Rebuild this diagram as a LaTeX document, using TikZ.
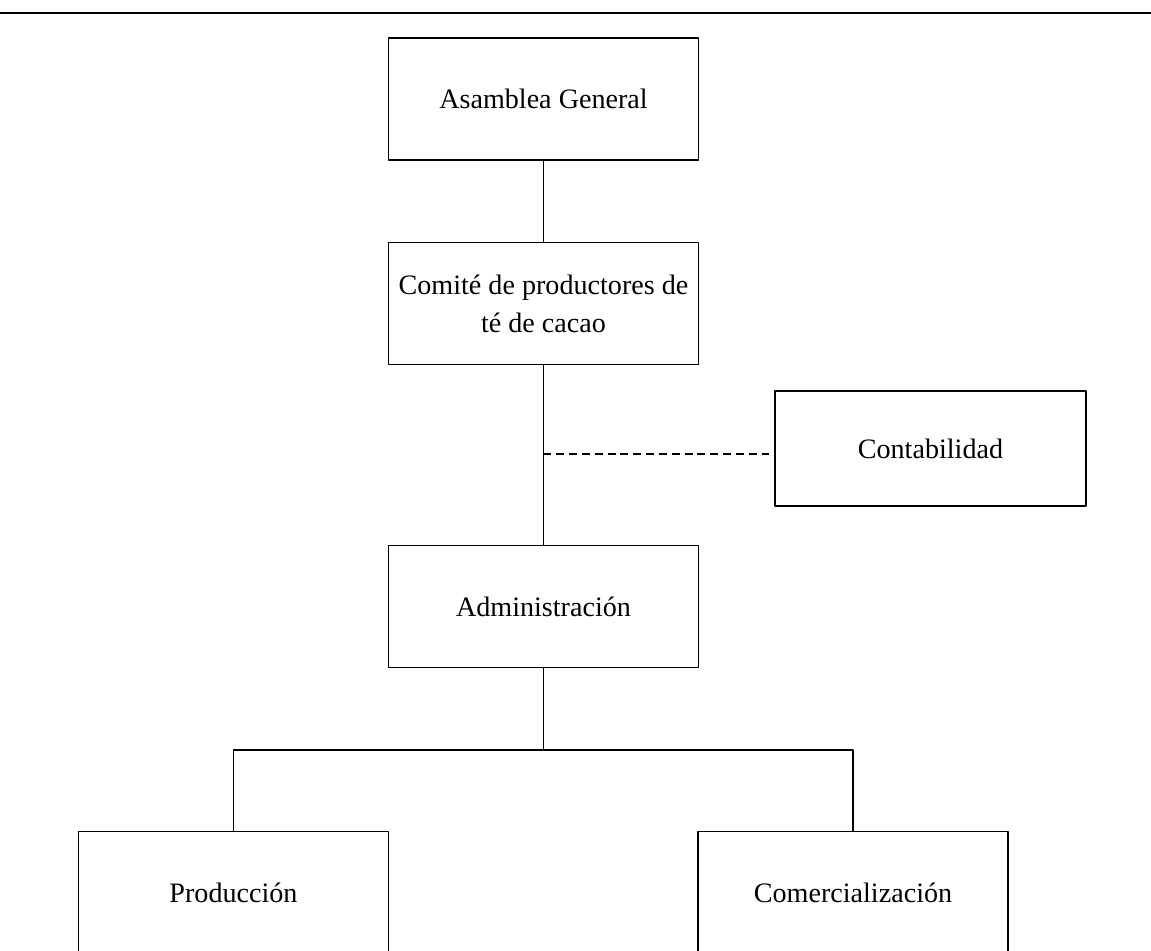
\documentclass[tikz,border=0pt]{standalone}
\usepackage{fontspec}
\setmainfont{Liberation Serif}
\usepackage{tikz}
\usetikzlibrary{positioning}

\begin{document}
\begin{tikzpicture}[join=round,
    unidad/.style={draw,line width=0.8pt,minimum width=6.2cm,minimum height=2.44cm,inner sep=0pt,align=center,font=\fontsize{16}{21.5}\selectfont},
    enlace/.style={line width=0.6pt}] % Organigrama
   \useasboundingbox (0,0) rectangle (23.02,19.02);
   \coordinate (ri) at (0,18.76);
   \coordinate (rd) at (23.02,18.76);
   \draw[line width=1.2pt] (ri) -- (rd);
       \node[unidad] (asamblea) at (10.87,17.04) {Asamblea General};
       \node[unidad] (comite) at (10.87,12.95) {Comité de productores de\\té de cacao};
       \node[unidad,minimum width=6.22cm,minimum height=2.3cm] (contab) at (18.61,10.05) {Contabilidad};
       \node[unidad] (admin) at (10.87,6.89) {Administración};
       \node[unidad,anchor=north] (prod) at (4.67,2.4) {Producción};
       \node[unidad,anchor=north] (comer) at (17.06,2.4) {Comercialización};
        \coordinate (cruce) at (10.87,9.94);
        \coordinate (barra) at (10.87,4.02);
       \draw[enlace] (asamblea) -- (comite);
       \draw[enlace] (comite) -- (admin);
       \draw[enlace,dash pattern=on 4.5pt off 2.8pt] (cruce) -- (cruce -| contab.west);
       \draw[enlace] (admin) -- (barra);
       \draw[enlace] (prod.north) -- (prod.north |- barra) -- (comer.north |- barra) -- (comer.north);
   \end{tikzpicture}
\end{document}
